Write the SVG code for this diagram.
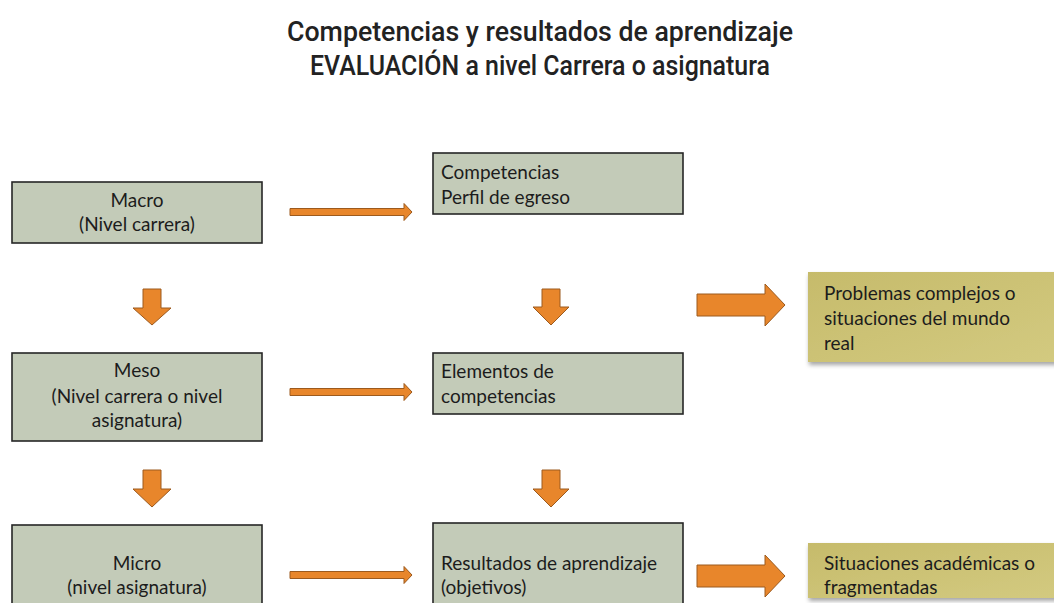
<svg xmlns="http://www.w3.org/2000/svg" width="1054" height="603" viewBox="0 0 1054 603">
<style>
.box{fill:#c3cbb8;stroke:#262626;stroke-width:1.6}
.olive{fill:url(#og);filter:url(#sh)}
.t{font-family:Lato,"Open Sans",sans-serif;font-size:19px;fill:#1c1c1c}
.c{text-anchor:middle}
.title{font-family:Roboto,"DejaVu Sans",sans-serif;font-weight:500;font-size:28px;fill:#222;text-anchor:middle}
.ar{fill:#e8862b;stroke:#9c5a1e;stroke-width:1}
</style>
<defs>
<linearGradient id="og" x1="0" y1="0" x2="1" y2="1">
<stop offset="0" stop-color="#c6bb6b"/>
<stop offset="1" stop-color="#d3ca80"/>
</linearGradient>
<filter id="sh" x="-5%" y="-10%" width="115%" height="130%">
<feDropShadow dx="1" dy="3" stdDeviation="2" flood-color="#000" flood-opacity="0.35"/>
</filter>
</defs>
<rect width="1054" height="603" fill="#fff"/>
<g id="title">
<text class="title" x="540" y="41" textLength="506" lengthAdjust="spacingAndGlyphs">Competencias y resultados de aprendizaje</text>
<text class="title" x="540" y="75" textLength="460" lengthAdjust="spacingAndGlyphs">EVALUACIÓN a nivel Carrera o asignatura</text>
</g>
<g id="macro">
<rect class="box" x="12" y="182" width="250" height="61"/>
<text class="t c" x="137" y="207">Macro</text>
<text class="t c" x="137" y="231">(Nivel carrera)</text>
</g>
<g id="meso">
<rect class="box" x="12" y="353" width="250" height="88"/>
<text class="t c" x="137" y="377">Meso</text>
<text class="t c" x="137" y="403">(Nivel carrera o nivel</text>
<text class="t c" x="137" y="427">asignatura)</text>
</g>
<g id="micro">
<rect class="box" x="12" y="525" width="250" height="100"/>
<text class="t c" x="137" y="570">Micro</text>
<text class="t c" x="137" y="594">(nivel asignatura)</text>
</g>
<g id="competencias">
<rect class="box" x="433" y="153" width="250" height="61"/>
<text class="t" x="441" y="179">Competencias</text>
<text class="t" x="441" y="204">Perfil de egreso</text>
</g>
<g id="elementos">
<rect class="box" x="433" y="353" width="250" height="61"/>
<text class="t" x="441" y="378">Elementos de</text>
<text class="t" x="441" y="403">competencias</text>
</g>
<g id="resultados">
<rect class="box" x="433" y="523" width="250" height="100"/>
<text class="t" x="441" y="570">Resultados de aprendizaje</text>
<text class="t" x="441" y="594">(objetivos)</text>
</g>
<g id="problemas">
<rect class="olive" x="808" y="272" width="250" height="90"/>
<text class="t" x="824" y="300">Problemas complejos o</text>
<text class="t" x="824" y="325">situaciones del mundo</text>
<text class="t" x="824" y="350">real</text>
</g>
<g id="situaciones">
<rect class="olive" x="808" y="543" width="250" height="55"/>
<text class="t" x="824" y="570">Situaciones académicas o</text>
<text class="t" x="824" y="594">fragmentadas</text>
</g>
<g id="connectors">
<path class="ar" d="M290,208.5 H404 V203.5 L412,212 L404,220.5 V215.5 H290 Z"/>
<path class="ar" d="M290,388.5 H404 V383.5 L412,392 L404,400.5 V395.5 H290 Z"/>
<path class="ar" d="M290,571.5 H404 V566.5 L412,575 L404,583.5 V578.5 H290 Z"/>
<path class="ar" d="M143,289 H161 V308 H171 L152,325 L133,308 H143 Z"/>
<path class="ar" d="M143,470 H161 V489 H171 L152,507 L133,489 H143 Z"/>
<path class="ar" d="M542,289 H560 V307 H569 L551,325 L533,307 H542 Z"/>
<path class="ar" d="M542,470 H560 V489 H569 L551,507 L533,489 H542 Z"/>
<path class="ar" d="M697,294 H765 V284 L785,305 L765,326 V316 H697 Z"/>
<path class="ar" d="M697,565 H765 V555 L785,576 L765,597 V587 H697 Z"/>
</g>
</svg>
